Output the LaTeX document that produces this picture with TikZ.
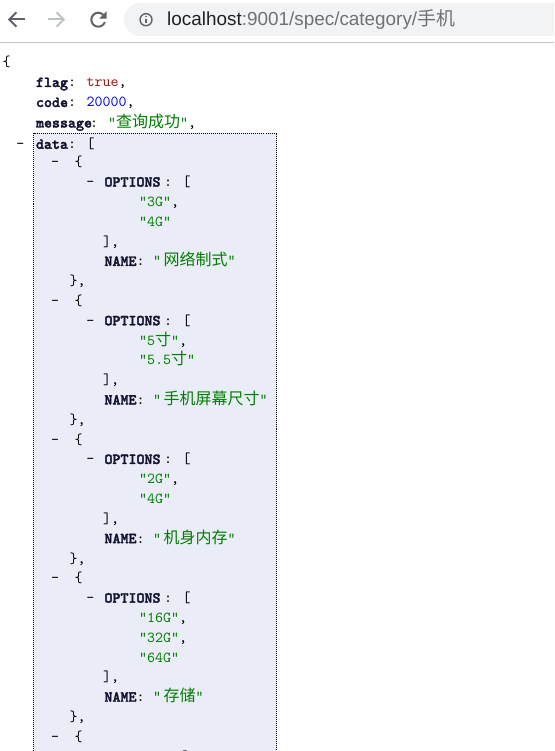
\documentclass[tikz,border=0pt]{standalone}
\usepackage{fontspec}
\newfontfamily\urlfont{Liberation Sans}
\newfontfamily\cjk{Noto Sans CJK SC}
\newfontfamily\jm{lmmono10-regular.otf}
\newfontfamily\jmb{lmmonolt10-bold.otf}[FakeBold=2.2]
\newcommand\jsz{\fontsize{15.24}{19}\selectfont}
\newcommand\cj[1]{{\cjk\fontsize{16}{19}\selectfont #1}}
\newcommand\yl[1]{{166.8+19.81*(#1)}}
\newcommand\q{”}
\definecolor{strg}{RGB}{0,128,0}
\definecolor{tru}{RGB}{165,25,25}
\definecolor{num}{RGB}{0,0,240}
\definecolor{keycol}{RGB}{20,20,50}
\definecolor{boxfill}{RGB}{234,236,247}
\definecolor{icon}{RGB}{95,99,104}
\definecolor{iconlt}{RGB}{190,193,198}
\definecolor{pill}{RGB}{241,243,244}
\definecolor{urldark}{RGB}{32,33,36}
\definecolor{urlgray}{RGB}{110,114,118}
\definecolor{sepcol}{RGB}{195,195,195}
\begin{document}
\begin{tikzpicture}[x=1pt,y=-1pt,
  tx/.style={anchor=base west,inner sep=0pt,outer sep=0pt,font=\jm\jsz},
  key/.style={tx,font=\jmb\jsz,text=keycol},
  icn/.style={draw=icon,line width=2pt},
  boxline/.style={draw=black,line width=1pt,dash pattern=on 1pt off 1pt}]
\useasboundingbox (0,0) rectangle (554,751);
\clip (0,0) rectangle (554,751);
\fill[white] (0,0) rectangle (554,751);
% ---------- browser toolbar ----------
\fill[pill, rounded corners=16.5pt] (124,3) rectangle (620,36);
\draw[sepcol, line width=1.2pt] (0,42.5) -- (554,42.5);
% back
\draw[icn] (25,19.5) -- (9.8,19.5);
\draw[icn, line join=miter] (16.5,12.3) -- (9.3,19.5) -- (16.5,26.7);
% forward
\draw[draw=iconlt, line width=2pt] (48,19.5) -- (63.2,19.5);
\draw[draw=iconlt, line width=2pt, line join=miter] (56.5,12.3) -- (63.7,19.5) -- (56.5,26.7);
% reload
\draw[icn] (98.3,19.7) ++(20:7) arc[start angle=20,end angle=318,radius=7];
\fill[icon] (99.3,18.7) -- (106.6,18.7) -- (106.6,11.4) -- cycle;
% info
\draw[icon, line width=1.4pt] (146,19.7) circle[radius=6];
\fill[icon] (146,16.5) circle[radius=0.9];
\draw[icon, line width=1.4pt] (146,18.6) -- (146,23.5);
\node[anchor=base west, inner sep=0pt, font=\urlfont\fontsize{18.9}{22}\selectfont] (url) at (167,25.7)
  {\textcolor{urldark}{localhost}\textcolor{urlgray}{:9001/spec/category/{\cjk 手机}}};
% ---------- data box ----------
\path[boxline, fill=boxfill] (33.5,133.5) rectangle (276.5,790);
% ---------- top level ----------
\node[tx] (open) at (2.5,66.5) {\{};
\node[tx] (flag) at (36,87) {{\jmb\color{keycol}flag}: \textcolor{tru}{true},};
\node[tx] (code) at (36,107) {{\jmb\color{keycol}code}: \textcolor{num}{20000},};
\node[key] (msgk) at (36,127.5) {message};
\node[tx] (msgc) at (90,127.5) {:};
\node[tx] (msgv) at (108,127.5) {\textcolor{strg}{\q\cj{查询成功}\q},};
\node[tx] (dd) at (16.3,148.8) {-};
\node[key] (datak) at (36,148.8) {data};
\node[tx] (datac) at (68,148.8) {: [};
% ---------- item 1 ----------
\node[tx] (i1d) at (51,\yl{0}) {-};
\node[tx] (i1o) at (74.5,\yl{0}) {\{};
\node[tx] (i1od) at (86.3,\yl{1}) {-};
\node[key] (i1ok) at (104.5,\yl{1}) {OPTIONS};
\node[tx] (i1oc) at (164,\yl{1}) {: [};
\node[tx] (i1v1) at (139,\yl{2}) {\textcolor{strg}{\q3G\q},};
\node[tx] (i1v2) at (139,\yl{3}) {\textcolor{strg}{\q4G\q}};
\node[tx] (i1ce) at (103,\yl{4}) {],};
\node[key] (i1nk) at (104.5,\yl{5}) {NAME};
\node[tx] (i1nc) at (136.5,\yl{5}) {:};
\node[tx] (i1nv) at (153,\yl{5}) {\textcolor{strg}{\q\kern2.5pt\cj{网络制式}\q}};
\node[tx] (i1c) at (69.5,\yl{6}) {\},};
% ---------- item 2 ----------
\node[tx] (i2d) at (51,\yl{7}) {-};
\node[tx] (i2o) at (74.5,\yl{7}) {\{};
\node[tx] (i2od) at (86.3,\yl{8}) {-};
\node[key] (i2ok) at (104.5,\yl{8}) {OPTIONS};
\node[tx] (i2oc) at (164,\yl{8}) {: [};
\node[tx] (i2v1) at (139,\yl{9}) {\textcolor{strg}{\q5\cj{寸}\q},};
\node[tx] (i2v2) at (139,\yl{10}) {\textcolor{strg}{\q5.5\cj{寸}\q}};
\node[tx] (i2ce) at (103,\yl{11}) {],};
\node[key] (i2nk) at (104.5,\yl{12}) {NAME};
\node[tx] (i2nc) at (136.5,\yl{12}) {:};
\node[tx] (i2nv) at (153,\yl{12}) {\textcolor{strg}{\q\kern2.5pt\cj{手机屏幕尺寸}\q}};
\node[tx] (i2c) at (69.5,\yl{13}) {\},};
% ---------- item 3 ----------
\node[tx] (i3d) at (51,\yl{14}) {-};
\node[tx] (i3o) at (74.5,\yl{14}) {\{};
\node[tx] (i3od) at (86.3,\yl{15}) {-};
\node[key] (i3ok) at (104.5,\yl{15}) {OPTIONS};
\node[tx] (i3oc) at (164,\yl{15}) {: [};
\node[tx] (i3v1) at (139,\yl{16}) {\textcolor{strg}{\q2G\q},};
\node[tx] (i3v2) at (139,\yl{17}) {\textcolor{strg}{\q4G\q}};
\node[tx] (i3ce) at (103,\yl{18}) {],};
\node[key] (i3nk) at (104.5,\yl{19}) {NAME};
\node[tx] (i3nc) at (136.5,\yl{19}) {:};
\node[tx] (i3nv) at (153,\yl{19}) {\textcolor{strg}{\q\kern2.5pt\cj{机身内存}\q}};
\node[tx] (i3c) at (69.5,\yl{20}) {\},};
% ---------- item 4 ----------
\node[tx] (i4d) at (51,\yl{21}) {-};
\node[tx] (i4o) at (74.5,\yl{21}) {\{};
\node[tx] (i4od) at (86.3,\yl{22}) {-};
\node[key] (i4ok) at (104.5,\yl{22}) {OPTIONS};
\node[tx] (i4oc) at (164,\yl{22}) {: [};
\node[tx] (i4v1) at (139,\yl{23}) {\textcolor{strg}{\q16G\q},};
\node[tx] (i4v2) at (139,\yl{24}) {\textcolor{strg}{\q32G\q},};
\node[tx] (i4v3) at (139,\yl{25}) {\textcolor{strg}{\q64G\q}};
\node[tx] (i4ce) at (103,\yl{26}) {],};
\node[key] (i4nk) at (104.5,\yl{27}) {NAME};
\node[tx] (i4nc) at (136.5,\yl{27}) {:};
\node[tx] (i4nv) at (153,\yl{27}) {\textcolor{strg}{\q\kern2.5pt\cj{存储}\q}};
\node[tx] (i4c) at (69.5,\yl{28}) {\},};
% ---------- item 5 (cut off by the window edge) ----------
\node[tx] (i5d) at (51,\yl{29}) {-};
\node[tx] (i5o) at (74.5,\yl{29}) {\{};
\node[tx] (i5oc) at (179.5,\yl{30}) {[};
\end{tikzpicture}
\end{document}
